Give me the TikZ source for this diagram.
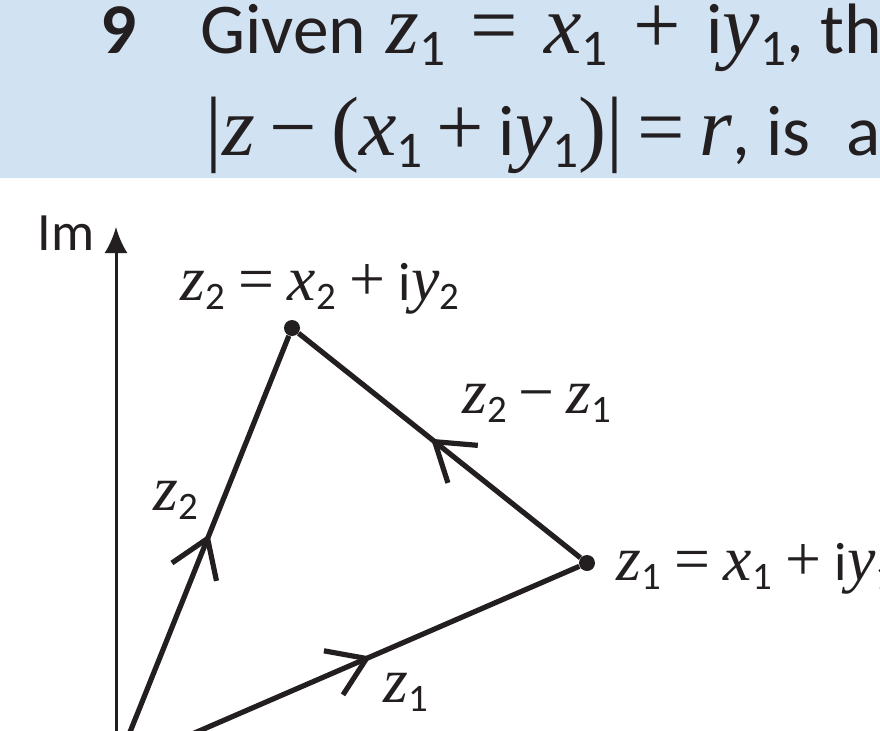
\documentclass[tikz,border=0pt]{standalone}
\usepackage{graphicx}
\usepackage{fontspec}
\setmainfont{Carlito}
\newfontfamily\varfont{Liberation Serif}[Scale=1.18]
\usetikzlibrary{arrows.meta,decorations.markings}
\definecolor{band}{RGB}{209,226,242}
\definecolor{ink}{RGB}{35,31,32}
\newcommand{\mv}[1]{{\varfont\itshape #1}}
\newcommand{\op}[1]{{\varfont #1}}
\newcommand{\rel}[2][0.36em]{\hspace{#1}\op{#2}\hspace{#1}}
\newcommand{\ix}[1]{\raisebox{-0.17em}{\scalebox{0.72}{#1}}}

\begin{document}
\begin{tikzpicture}[x=0.5pt,y=-0.5pt,>=Latex,color=ink,
  head/.style={anchor=base west,inner sep=0pt,text height=24pt,font=\fontsize{35.7}{40}\selectfont},
  lbl/.style={anchor=base west,inner sep=0pt,font=\fontsize{27}{32}\selectfont},
  dot/.style={circle,fill=ink,inner sep=0pt,minimum size=8pt},
  axis/.style={line width=1.5pt,-{Latex[length=13pt,width=11.5pt]}},
  vec/.style={line width=2.6pt,postaction={decorate},decoration={markings,mark=at position #1 with {\arrow{Straight Barb[length=18pt,width=24pt,line width=2.6pt]}}}}]
\useasboundingbox (0,0) rectangle (880,730);
\clip (0,0) rectangle (880,730);
\fill[white] (0,0) rectangle (880,730);
\fill[band] (0,0) rectangle (880,178);
\node[head] (num) at (100,53) {\bfseries 9};
\node[head] (line1) at (200,53) {Given\hspace{0.28em}\mv{z}\ix{1}\rel{=}\mv{x}\ix{1}\rel{+}i\mv{y}\ix{1}, th};
\node[head] (line2) at (205,155) {\op{|}\mv{z}\rel[0.2em]{−}\op{(}\mv{x}\ix{1}\rel[0.2em]{+}i\mv{y}\ix{1}\op{)}\op{|}\rel[0.2em]{=}\mv{r}, is\hspace{0.5em}a};
\coordinate (O) at (116,767);
\coordinate (imtop) at (116,227);
\node[dot] (z2) at (292,328) {};
\node[dot] (z1) at (587,563) {};
\node[lbl] (im) at (37,250) {Im};
\node[lbl] (z2lab) at (180,300) {\mv{z}\ix{2}\rel[0.25em]{=}\mv{x}\ix{2}\rel[0.25em]{+}i\mv{y}\ix{2}};
\node[lbl] (z1lab) at (616,580) {\mv{z}\ix{1}\rel[0.25em]{=}\mv{x}\ix{1}\rel[0.25em]{+}i\mv{y}\ix{1}};
\node[lbl] (difflab) at (462,413) {\mv{z}\ix{2}\rel[0.22em]{−}\mv{z}\ix{1}};
\node[lbl] (z2vec) at (153,510) {\mv{z}\ix{2}};
\node[lbl] (z1vec) at (383,702) {\mv{z}\ix{1}};
\draw[axis] (O)--(imtop);
\draw[vec=0.54] (O)--(z2); \draw[vec=0.55] (O)--(z1); \draw[vec=0.53] (z1)--(z2);
\end{tikzpicture}
\end{document}
